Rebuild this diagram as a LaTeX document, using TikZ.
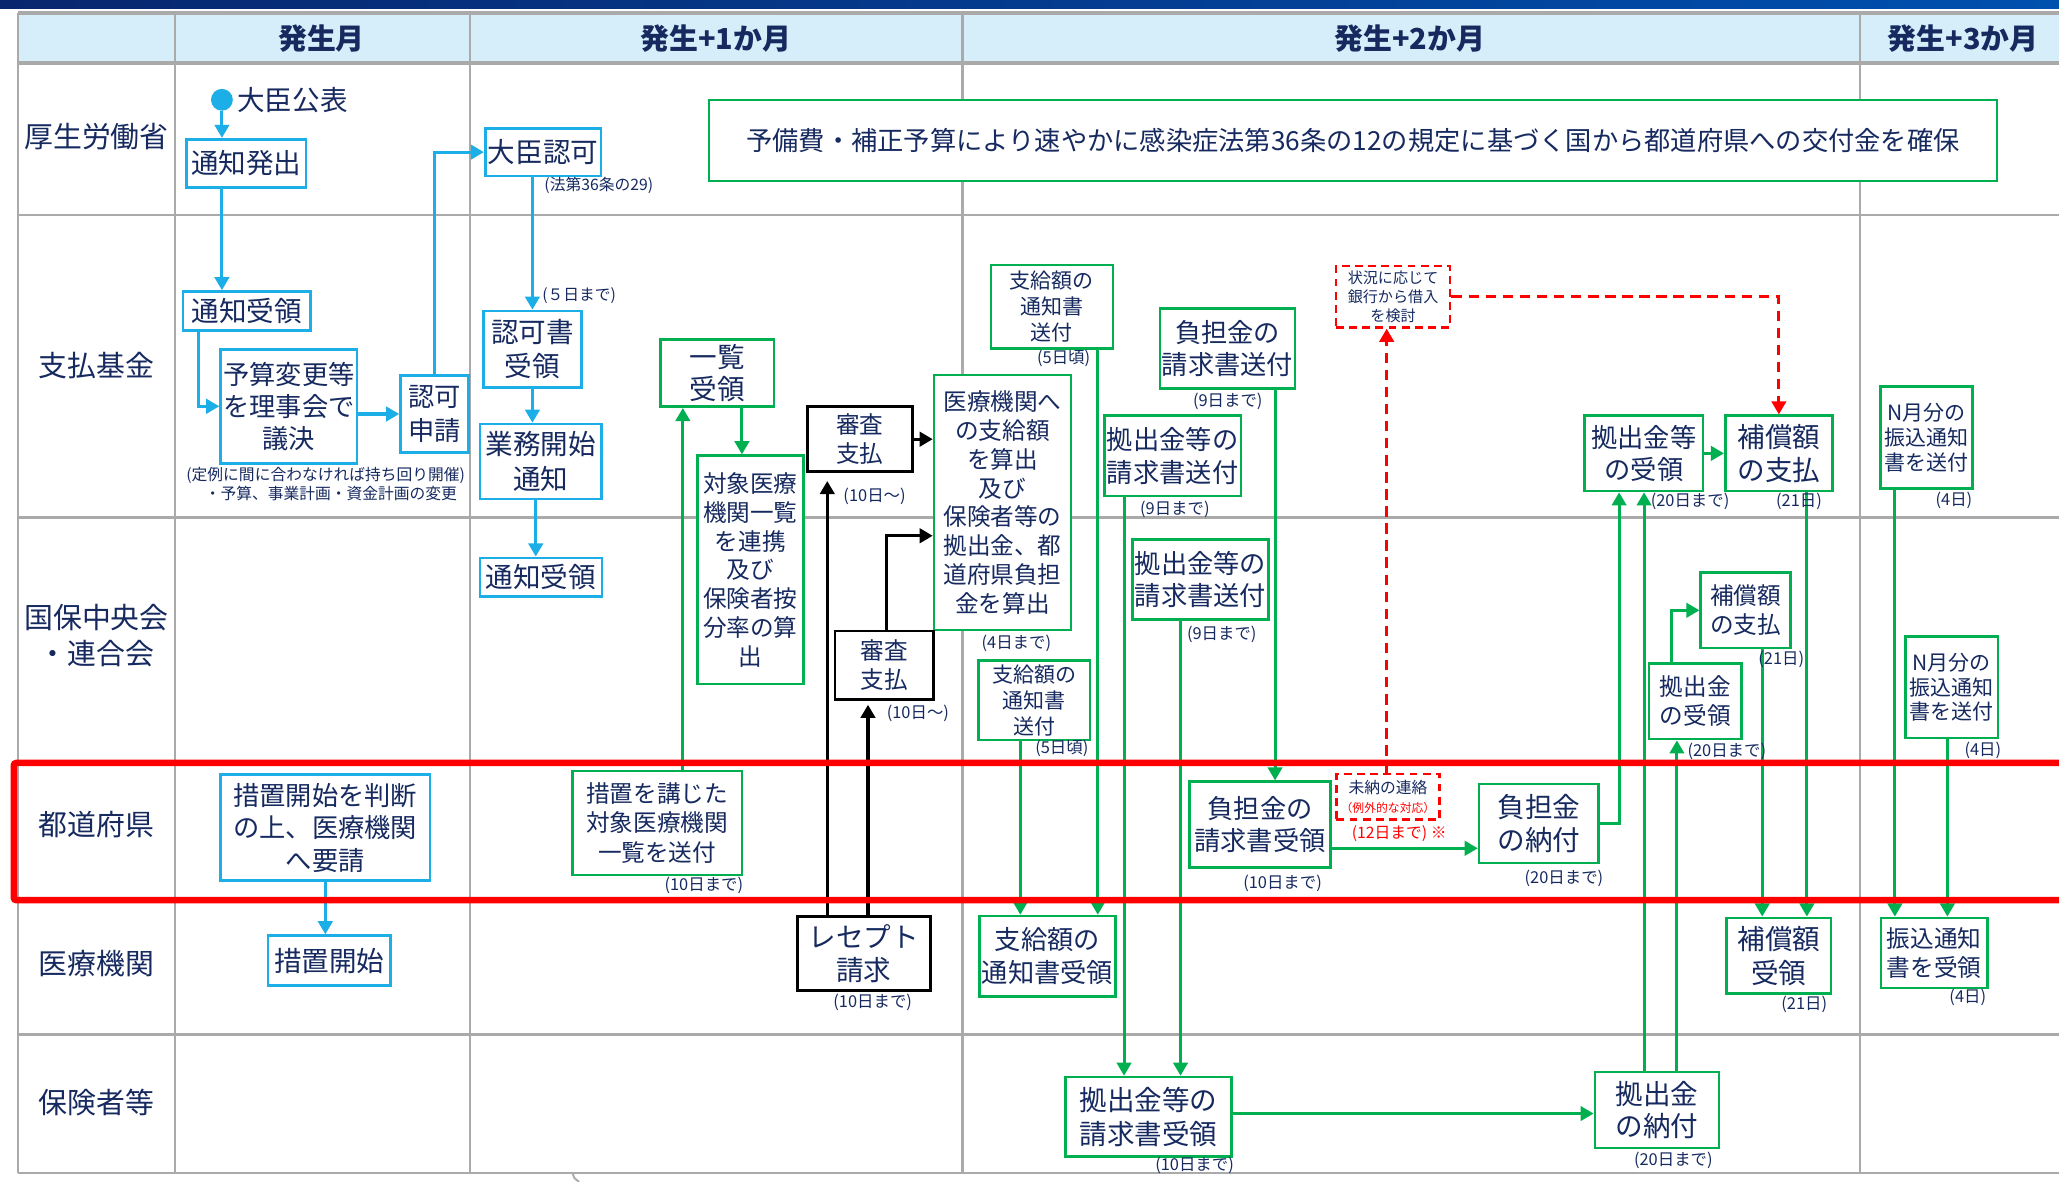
\documentclass[tikz,border=0pt]{standalone}
\usepackage{fontspec}
\setmainfont{Noto Sans CJK JP}
\usetikzlibrary{arrows.meta}
\definecolor{navy}{RGB}{22,42,96}
\definecolor{cyanc}{RGB}{28,174,230}
\definecolor{greenc}{RGB}{0,176,80}
\definecolor{gridc}{RGB}{170,170,170}
\definecolor{hdrc}{RGB}{214,238,249}
\definecolor{banda}{RGB}{8,38,110}
\definecolor{bandb}{RGB}{0,80,175}
\newcommand\fz[2]{\fontsize{#1}{#2}\selectfont}
\newcommand\bx[7]{\node[#1,minimum width={(#5)-(#3)},minimum height={(#6)-(#4)}] (#2) at ({((#3)+(#5))/2},{((#4)+(#6))/2}) {#7};}
\pgfdeclarelayer{bg}
\pgfdeclarelayer{mid}
\pgfsetlayers{bg,mid,main}
\tikzset{
  bbox/.style={draw, line width=2pt, inner sep=0pt, align=center, text=navy, fill=white},
  cbox/.style={bbox, draw=cyanc},
  gbox/.style={bbox, draw=greenc},
  kbox/.style={bbox, draw=black, line width=2.2pt},
  rbox/.style={bbox, draw=red, dash pattern=on 6pt off 4pt},
  arrtip/.style={-{Triangle[length=10pt,width=11pt]}},
  carr/.style={draw=cyanc, line width=2.4pt, arrtip},
  garr/.style={draw=greenc, line width=2.2pt, arrtip},
  karr/.style={draw=black, line width=2.4pt, arrtip},
  rarr/.style={draw=red, line width=2.2pt, dash pattern=on 8pt off 5pt, arrtip},
  capt/.style={text=navy, inner sep=0pt, font=\fz{12.5}{14}},
  lbl/.style={text=navy, align=center, inner sep=0pt, font=\fz{22}{28}},
  hdr/.style={text=navy, inner sep=0pt, font=\fz{22}{26}\bfseries},
  gridln/.style={draw=gridc, line width=2pt}
}
\begin{document}
\begin{tikzpicture}[x=1pt,y=-1pt]
\clip (0,0) rectangle (1568,900);
\useasboundingbox (0,0) rectangle (1568,900);
\foreach \n in {151,408,520,565,836,777,856,899,971,1233,1252,1277,1273,1376,1342,1443,1483,630,661,675,1056}
  {\coordinate (X\n) at (\n,0);}
\coordinate (Y646) at (0,646);
\coordinate (Y848) at (0,848);
\coordinate (Y408) at (0,408);

% ---------- background and grid
\begin{pgfonlayer}{bg}
\fill[white] (0,0) rectangle (1568,900);
\shade[left color=banda,right color=bandb] (0,0) rectangle (1568,6.5);
\fill[hdrc] (13.6,10) rectangle (1568,48);
\foreach \x in {13.6,133.3,358,733.2,1416.5} \draw[gridln] (\x,10) -- (\x,893.3);
\foreach \y in {163.7,394,580,686,788,893.3} \draw[gridln] (13.6,\y) -- (1568,\y);
\draw[draw=gridc, line width=3pt] (13.6,10) -- (1568,10);
\draw[draw=gridc, line width=3pt] (13.6,48) -- (1568,48);
\draw[draw=gridc, line width=1.5pt] (436,893) .. controls (437,897) .. (441,900);
\end{pgfonlayer}

% ---------- headers and row labels
\node[hdr] (h1) at (244.8,29) {発生月};
\node[hdr] (h2) at (545,29) {発生+1か月};
\node[hdr] (h3) at (1073.7,29) {発生+2か月};
\node[hdr] (h4) at (1495,29) {発生+3か月};
\node[lbl] (r1) at (73.5,104) {厚生労働省};
\node[lbl] (r2) at (73.5,278) {支払基金};
\node[lbl] (r3) at (73.5,484) {国保中央会\\・連合会};
\node[lbl] (r4) at (73.5,628.3) {都道府県};
\node[lbl] (r5) at (73.5,733.4) {医療機関};
\node[lbl] (r6) at (73.5,839.3) {保険者等};

% ---------- cyan nodes
\node[circle, fill=cyanc, minimum size=16.6pt, inner sep=0pt] (dot) at (169,76) {};
\node[anchor=west, text=navy, inner sep=0pt, font=\fz{21}{25}] (koho) at (180.5,76) {大臣公表};
\bx{cbox,font=\fz{21}{25}}{tsuhatsu}{142}{106}{233}{142.7}{通知発出}
\bx{cbox,font=\fz{21}{25}}{tsuju1}{139.4}{222}{236.6}{251.8}{通知受領}
\bx{cbox,font=\fz{20}{24.2}}{yosan}{168}{266}{272}{352.8}{予算変更等\\を理事会で\\議決}
\bx{cbox,font=\fz{20}{25.4}}{ninka}{305}{286}{357}{344.5}{認可\\申請}
\bx{cbox,font=\fz{21}{25}}{daijin}{369.5}{97.7}{457.7}{134}{大臣認可}
\bx{cbox,font=\fz{21}{25.4}}{ninkasho}{368.2}{236.8}{442.7}{295}{認可書\\受領}
\bx{cbox,font=\fz{21}{26.6}}{gyomu}{365.5}{322.9}{458}{380}{業務開始\\通知}
\bx{cbox,font=\fz{21}{25}}{tsuju2}{365.5}{424.8}{458.3}{454.3}{通知受領}
\bx{cbox,font=\fz{20}{24.8}}{sochi}{168}{590}{327.5}{670.5}{措置開始を判断\\の上、医療機関\\へ要請}
\bx{cbox,font=\fz{21}{25}}{sochikai}{204}{712.5}{297.5}{750.6}{措置開始}

% ---------- green nodes
\bx{gbox,font=\fz{20}{25}}{banner}{540}{76.2}{1520.8}{137.9}{予備費・補正予算により速やかに感染症法第36条の12の規定に基づく国から都道府県への交付金を確保}
\bx{gbox,font=\fz{21}{25}}{ichiran}{503}{258.4}{589.5}{309.7}{一覧\\受領}
\bx{gbox,font=\fz{18}{22}}{taisho}{531}{347}{611.8}{521}{対象医療\\機関一覧\\を連携\\及び\\保険者按\\分率の算\\出}
\bx{gbox,font=\fz{18}{22.5}}{kojita}{435.8}{587}{565}{666.2}{措置を講じた\\対象医療機関\\一覧を送付}
\bx{gbox,font=\fz{16}{19.6}}{shikyuA}{754.7}{201.8}{847.5}{265.3}{支給額の\\通知書\\送付}
\bx{gbox,font=\fz{18}{22}}{iryo}{711.3}{285.6}{815.6}{479.8}{医療機関へ\\の支給額\\を算出\\及び\\保険者等の\\拠出金、都\\道府県負担\\金を算出}
\bx{gbox,font=\fz{16}{19.6}}{shikyuB}{745}{503}{830}{563.6}{支給額の\\通知書\\送付}
\bx{gbox,font=\fz{20}{25}}{futanA}{883.4}{235}{986.2}{295.9}{負担金の\\請求書送付}
\bx{gbox,font=\fz{20}{25}}{kyoshA}{841}{316.6}{945}{377.7}{拠出金等の\\請求書送付}
\bx{gbox,font=\fz{20}{25}}{kyoshB}{862.6}{411}{965.9}{471.6}{拠出金等の\\請求書送付}
\bx{gbox,font=\fz{20}{24.2}}{futanju}{905.9}{595.3}{1013.3}{660.6}{負担金の\\請求書受領}
\bx{gbox,font=\fz{21}{24.8}}{nofu}{1126.4}{597}{1217.4}{657.2}{負担金\\の納付}
\bx{gbox,font=\fz{20}{24.8}}{kyouke}{1206.7}{316.6}{1297}{373.9}{拠出金等\\の受領}
\bx{gbox,font=\fz{21}{25}}{hoshoA}{1313.9}{316.6}{1395.4}{373.9}{補償額\\の支払}
\bx{gbox,font=\fz{18}{21.9}}{hoshoB}{1295.2}{436}{1363.6}{493.5}{補償額\\の支払}
\bx{gbox,font=\fz{18}{21.9}}{kyouke2}{1255.8}{505.1}{1326.2}{562.8}{拠出金\\の受領}
\bx{gbox,font=\fz{16}{19}}{NA}{1432.2}{294.4}{1502.3}{372}{N月分の\\振込通知\\書を送付}
\bx{gbox,font=\fz{16}{19}}{NB}{1451.3}{484.7}{1521.4}{562}{N月分の\\振込通知\\書を送付}
\bx{gbox,font=\fz{20}{24.8}}{shikyuju}{745.9}{697.6}{849.4}{758.9}{支給額の\\通知書受領}
\bx{gbox,font=\fz{21}{25.8}}{hoshoju}{1315}{699}{1394.4}{756.6}{補償額\\受領}
\bx{gbox,font=\fz{18}{21.9}}{furiju}{1432.3}{699}{1513.4}{752.4}{振込通知\\書を受領}
\bx{gbox,font=\fz{21}{25.8}}{kyoju}{811.4}{820.2}{938}{880.7}{拠出金等の\\請求書受領}
\bx{gbox,font=\fz{21}{25}}{kyonofu}{1214.6}{816.4}{1309}{874.3}{拠出金\\の納付}

% ---------- black nodes
\bx{kbox,font=\fz{18}{21.6}}{shinsaA}{614.8}{309.7}{695}{359.2}{審査\\支払}
\bx{kbox,font=\fz{18}{21.6}}{shinsaB}{635.9}{480.5}{710.8}{532.6}{審査\\支払}
\bx{kbox,font=\fz{21}{24.8}}{receipt}{607.4}{698}{708.3}{754.2}{レセプト\\請求}

% ---------- red dashed nodes
\bx{rbox,font=\fz{11.5}{14.6}}{jokyo}{1017.4}{202.6}{1104.3}{249.3}{状況に応じて\\銀行から借入\\を検討}
\bx{rbox,font=\fz{12}{15}}{mino}{1017.7}{589.5}{1096.2}{624.2}{未納の連絡\\{\fz{9}{12}\color{red}（例外的な対応）}}

% ---------- captions
\node[capt,font=\fz{12}{13}] (c1) at (456,141) {(法第36条の29)};
\node[capt,font=\fz{12}{13}] (c2) at (441,225) {(５日まで)};
\node[capt,font=\fz{12}{13}] (c3) at (248,362) {(定例に間に合わなければ持ち回り開催)};
\node[capt,font=\fz{12}{13}] (c4) at (252,375.5) {・予算、事業計画・資金計画の変更};
\node[capt] (c5) at (536,674) {(10日まで)};
\node[capt] (c6) at (666,378) {(10日～)};
\node[capt] (c7) at (699,543) {(10日～)};
\node[capt] (c8) at (774,490) {(4日まで)};
\node[capt] (c9) at (810,273) {(5日頃)};
\node[capt] (c10) at (808.6,570) {(5日頃)};
\node[capt] (c11) at (935,305.4) {(9日まで)};
\node[capt] (c12) at (894.7,387.6) {(9日まで)};
\node[capt] (c13) at (930.4,483.3) {(9日まで)};
\node[capt] (c14) at (976.7,672.8) {(10日まで)};
\node[capt,text=red,font=\fz{12}{14}] (c15) at (1065.5,635) {(12日まで) ※};
\node[capt] (c16) at (1191,668.6) {(20日まで)};
\node[capt] (c17) at (1287,381.8) {(20日まで)};
\node[capt] (c18) at (1370,382) {(21日)};
\node[capt] (c19) at (1488,381.3) {(4日)};
\node[capt] (c20) at (1356.5,502) {(21日)};
\node[capt] (c21) at (1315,572) {(20日まで)};
\node[capt] (c22) at (1510,571.6) {(4日)};
\node[capt] (c23) at (664.6,763) {(10日まで)};
\node[capt] (c24) at (1374,765) {(21日)};
\node[capt] (c25) at (1498.5,759.9) {(4日)};
\node[capt] (c26) at (909.7,887.2) {(10日まで)};
\node[capt] (c27) at (1274.3,883.4) {(20日まで)};

% ---------- connectors
\begin{pgfonlayer}{mid}
\draw[carr] (dot) -- (tsuhatsu.north -| dot);
\draw[carr] (tsuhatsu.south -| dot) -- (tsuju1.north -| dot);
\draw[carr] (tsuju1.south -| X151) |- (yosan.west);
\draw[carr] (yosan.east |- ninka.west) -- (ninka.west);
\draw[carr] (ninka.north) |- (daijin.west);
\draw[carr] (daijin.south -| ninkasho) -- (ninkasho.north);
\draw[carr] (ninkasho.south) -- (gyomu.north -| ninkasho);
\draw[carr] (gyomu.south -| X408) -- (tsuju2.north -| X408);
\draw[carr] (sochi.south) -- (sochikai.north -| sochi);

\draw[garr] (kojita.north -| X520) -- (ichiran.south -| X520);
\draw[garr] (ichiran.south -| X565) -- (taisho.north -| X565);
\draw[garr] (shikyuA.south -| X836) -- (shikyuju.north -| X836);
\draw[garr] (shikyuB.south -| X777) -- (shikyuju.north -| X777);
\draw[garr] (kyoshA.south -| X856) -- (kyoju.north -| X856);
\draw[garr] (kyoshB.south -| X899) -- (kyoju.north -| X899);
\draw[garr] (futanA.south -| X971) -- (futanju.north -| X971);
\draw[garr] (futanju.east |- Y646) -- (nofu.west |- Y646);
\draw[garr] (nofu.east) -| (kyouke.south -| X1233);
\draw[garr] (kyonofu.north -| X1252) -- (kyouke.south -| X1252);
\draw[garr] (kyonofu.north -| X1277) -- (kyouke2.south -| X1277);
\draw[garr] (kyoju.east |- Y848) -- (kyonofu.west |- Y848);
\draw[garr] (kyouke.east) -- (hoshoA.west);
\draw[garr] (kyouke2.north -| X1273) |- (hoshoB.west);
\draw[garr] (hoshoA.south -| X1376) -- (hoshoju.north -| X1376);
\draw[garr] (hoshoB.south -| X1342) -- (hoshoju.north -| X1342);
\draw[garr] (NA.south -| X1443) -- (furiju.north -| X1443);
\draw[garr] (NB.south -| X1483) -- (furiju.north -| X1483);

\draw[karr, shorten >=6pt] (receipt.north -| X630) -- (shinsaA.south -| X630);
\draw[karr, shorten >=3pt] (receipt.north -| X661) -- (shinsaB.south -| X661);
\draw[karr] (shinsaA.east) -- (iryo.west |- shinsaA.east);
\draw[karr] (shinsaB.north -| X675) |- (iryo.west |- Y408);

\draw[rarr] (mino.north -| X1056) -- (jokyo.south -| X1056);
\draw[rarr] (jokyo.east) -| (hoshoA.north);
\end{pgfonlayer}

% ---------- red frame round the prefecture row
\draw[red, line width=5pt, rounded corners=2pt] (1580,581) -- (10.5,581) -- (10.5,685.5) -- (1580,685.5);
\end{tikzpicture}
\end{document}
